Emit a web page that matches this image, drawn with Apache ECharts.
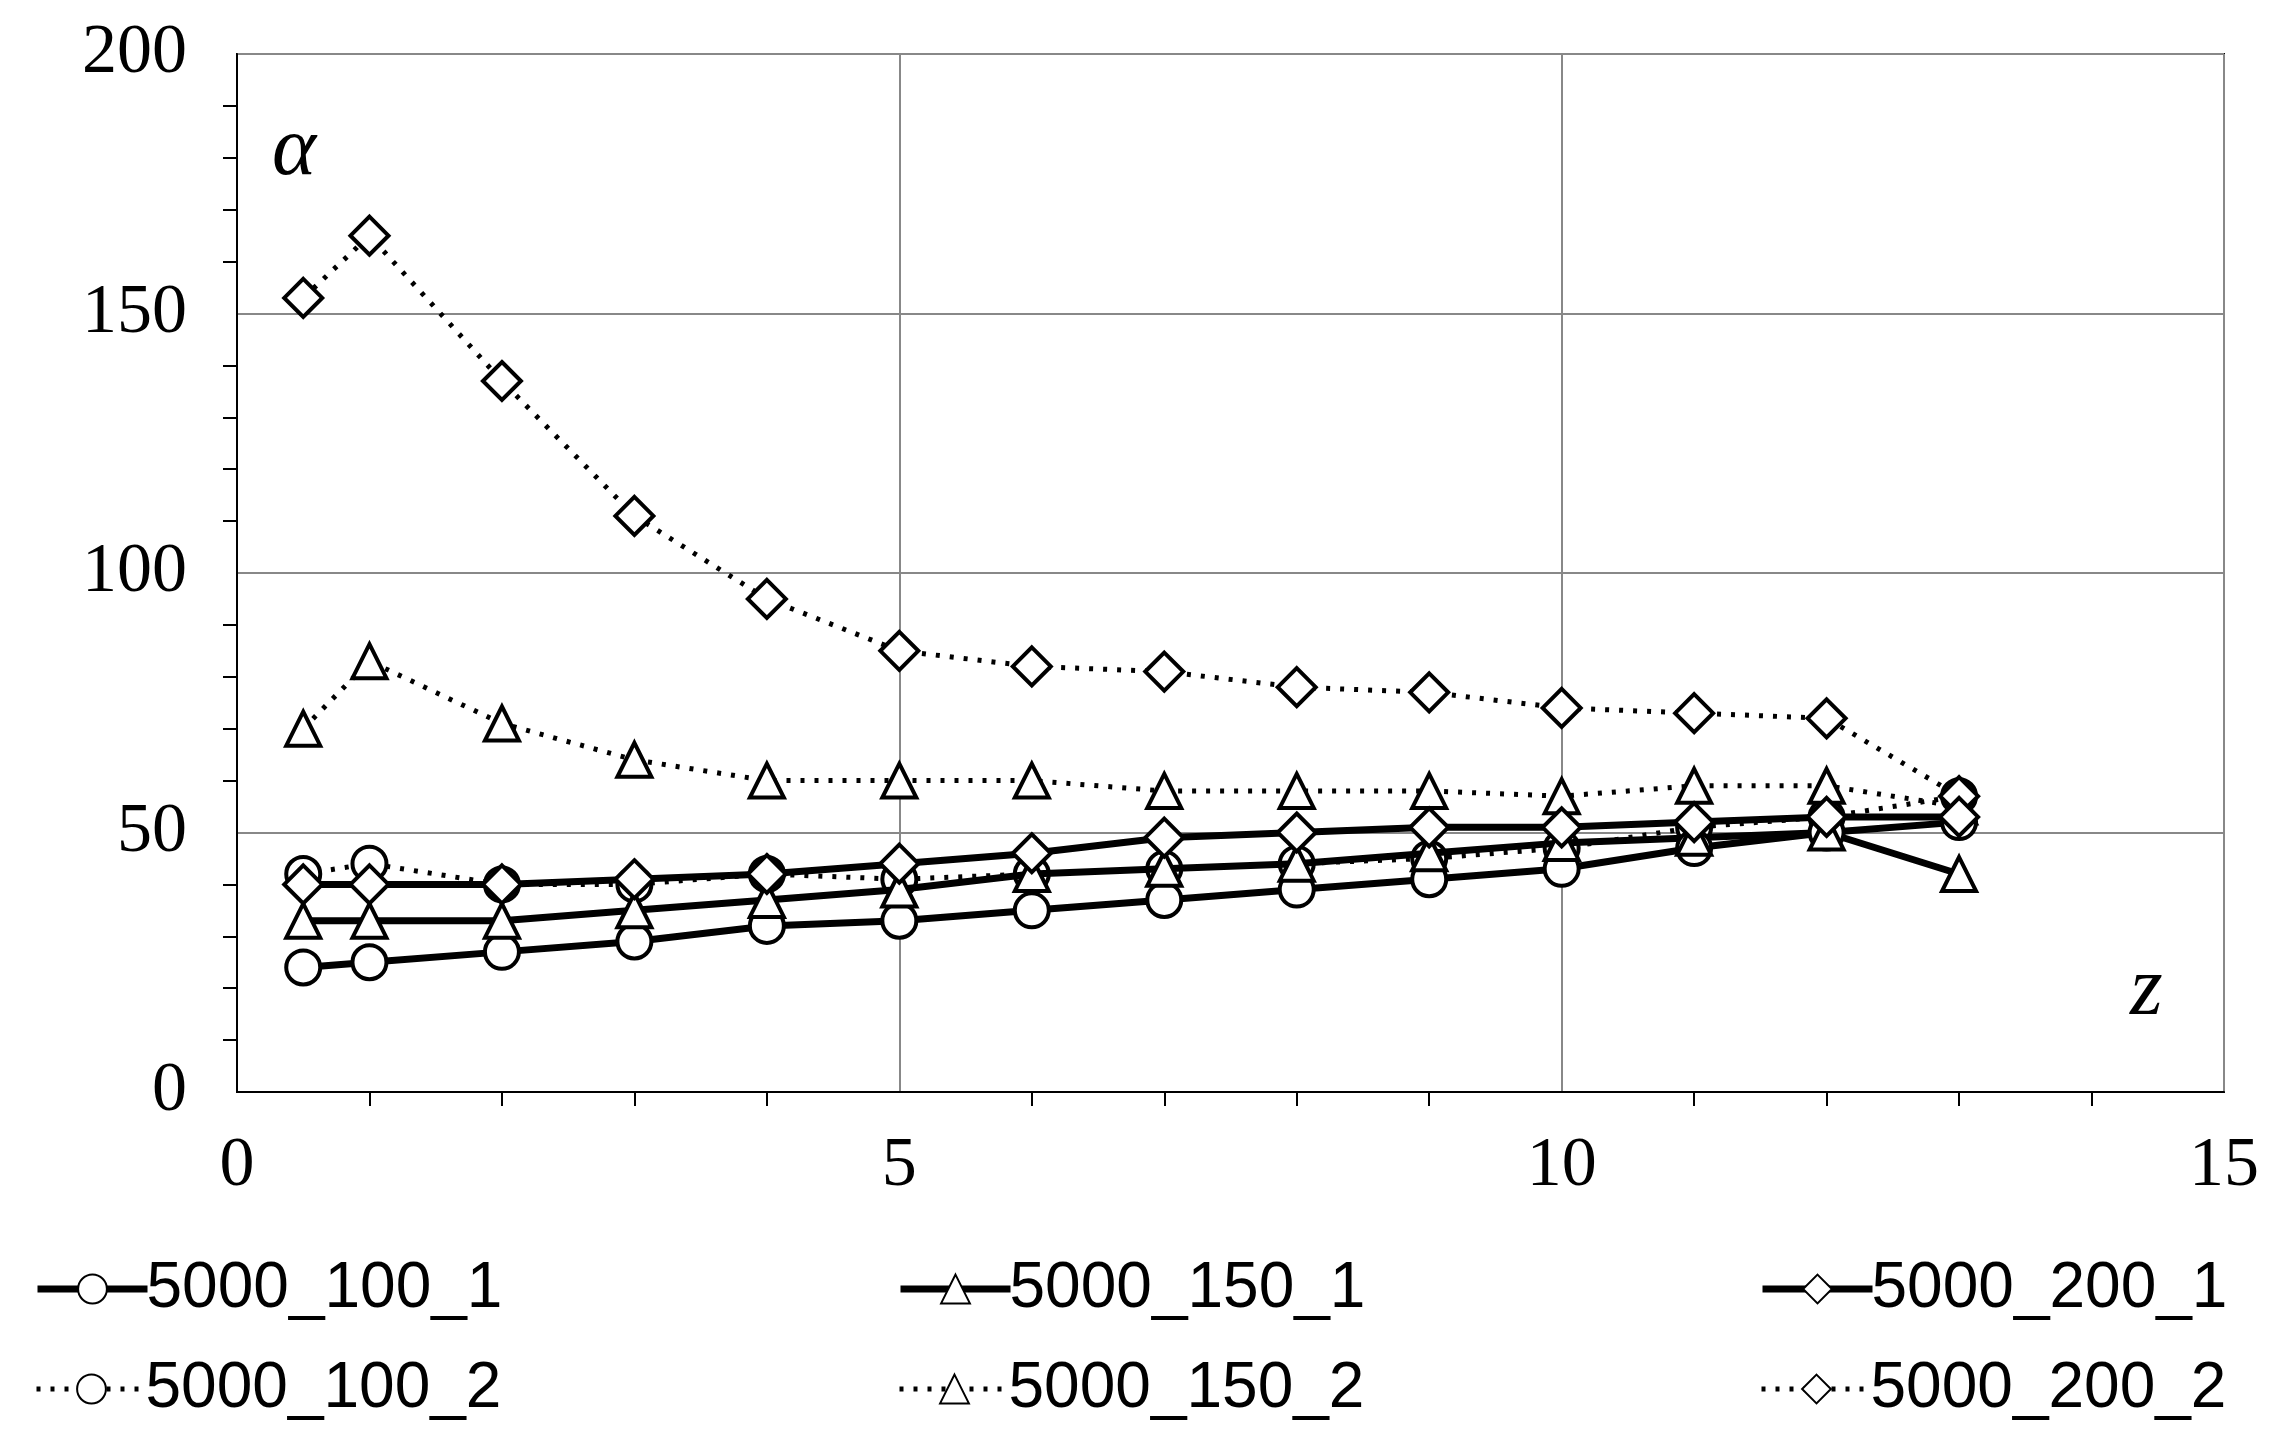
<!DOCTYPE html>
<html><head><meta charset="utf-8">
<script src="https://cdn.jsdelivr.net/npm/echarts@6/dist/echarts.min.js"></script>
<style>html,body{margin:0;background:#fff}#c{width:2280px;height:1448px}</style>
</head><body><div id="c"></div>
<script>
const zValues = [0.5, 1, 2, 3, 4, 5, 6, 7, 8, 9, 10, 11, 12, 13]
const s100_1 = [24, 25, 27, 29, 32, 33, 35, 37, 39, 41, 43, 47, 50, 52]
const s150_1 = [33, 33, 33, 35, 37, 39, 42, 43, 44, 46, 48, 49, 50, 42]
const s200_1 = [40, 40, 40, 41, 42, 44, 46, 49, 50, 51, 51, 52, 53, 53]
const s100_2 = [42, 44, 40, 40, 42, 41, 42, 43, 44, 45, 47, 51, 53, 57]
const s150_2 = [70, 83, 71, 64, 60, 60, 60, 58, 58, 58, 57, 59, 59, 55]
const s200_2 = [153, 165, 137, 111, 95, 85, 82, 81, 78, 77, 74, 73, 72, 57]
const names = ['5000_100_1', '5000_150_1', '5000_200_1', '5000_100_2', '5000_150_2', '5000_200_2']
const xTicks = [0, 5, 10, 15]
const yTicks = [0, 50, 100, 150, 200]

const font = 'Liberation Serif'
const dataSets = [s100_1, s150_1, s200_1, s100_2, s150_2, s200_2]
const symbols = ['circle', 'triangle', 'diamond', 'circle', 'triangle', 'diamond']

const series = dataSets.map((d, i) => ({
  name: names[i],
  type: 'line',
  data: d.map((v, j) => [zValues[j], v]),
  symbol: symbols[i],
  symbolSize: i % 3 === 2 ? 38 : 34,
  lineStyle: { color: '#000', width: i < 3 ? 7 : 5, type: i < 3 ? 'solid' : [4, 10] },
  itemStyle: { color: '#fff', borderColor: '#000', borderWidth: 4 },
  z: i < 3 ? 3 : 2
}))

const legendPos = [[29, 1252], [892, 1252], [1754, 1252], [29, 1352], [892, 1352], [1754, 1352]]
const legends = names.map((n, i) => ({
  data: [n], left: legendPos[i][0], top: legendPos[i][1],
  itemWidth: 110, itemHeight: 36, itemGap: 4,
  lineStyle: { width: i < 3 ? 7 : 5 },
  textStyle: { fontFamily: 'Liberation Sans', fontSize: 64, color: '#000', padding: [0, 0, 0, -6] }
}))

const chart = echarts.init(document.getElementById('c'))
chart.setOption({
  animation: false,
  backgroundColor: '#fff',
  grid: { left: 237, right: 56, top: 54, bottom: 356 },
  legend: legends,
  xAxis: {
    type: 'value', min: xTicks[0], max: xTicks[xTicks.length - 1], interval: 5,
    axisLine: { lineStyle: { color: '#000', width: 2 } },
    axisTick: { show: false },
    minorTick: { show: true, splitNumber: 5, length: 14, lineStyle: { color: '#000', width: 2 } },
    axisLabel: { fontFamily: font, fontSize: 70, color: '#000', margin: 40 },
    splitLine: { lineStyle: { color: '#888', width: 2 } }
  },
  yAxis: {
    type: 'value', min: yTicks[0], max: yTicks[yTicks.length - 1], interval: 50,
    axisLine: { show: true, lineStyle: { color: '#000', width: 2 } },
    axisTick: { show: false },
    minorTick: { show: true, splitNumber: 5, length: 14, lineStyle: { color: '#000', width: 2 } },
    axisLabel: { fontFamily: font, fontSize: 70, color: '#000', margin: 50 },
    splitLine: { lineStyle: { color: '#888', width: 2 } }
  },
  graphic: [
    { type: 'rect', shape: { x: 237, y: 54, width: 1987, height: 1038 }, style: { fill: 'none', stroke: '#000', lineWidth: 2 }, silent: true },
    { type: 'text', left: 272, top: 110, style: { text: 'α', font: 'italic 84px "Liberation Serif"', fill: '#000' } },
    { type: 'text', left: 2130, top: 950, style: { text: 'z', font: 'italic 84px "Liberation Serif"', fill: '#000' } }
  ],
  series
})
</script>
</body></html>
